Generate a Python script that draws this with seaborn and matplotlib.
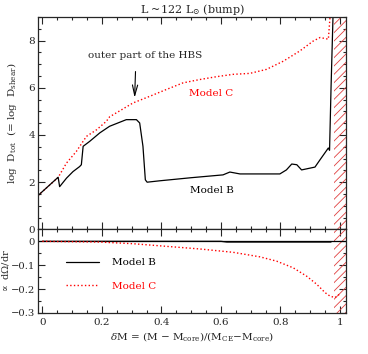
import numpy as np
import pandas as pd
import matplotlib
matplotlib.use('Agg')
import matplotlib.pyplot as plt
import seaborn as sns
from matplotlib.ticker import MultipleLocator

sns.set_style('ticks')
plt.rcParams['font.family'] = ['DejaVu Serif']
plt.rcParams['mathtext.fontset'] = 'dejavuserif'
plt.rcParams['hatch.linewidth'] = 0.6

# Model B, top panel (log D_tot)
xb = [-0.015, 0.053, 0.058, 0.081, 0.103, 0.125, 0.131, 0.137, 0.159, 0.193, 0.226,
      0.26, 0.282, 0.316, 0.327, 0.338, 0.346, 0.352, 0.395, 0.5, 0.607, 0.63, 0.664,
      0.75, 0.798, 0.82, 0.838, 0.855, 0.871, 0.916, 0.933, 0.961, 0.965, 0.97, 0.977]
yb = [1.43, 2.21, 1.81, 2.17, 2.45, 2.66, 2.74, 3.52, 3.73, 4.09, 4.37,
      4.54, 4.65, 4.65, 4.51, 3.52, 2.1, 2.0, 2.06, 2.19, 2.31, 2.43, 2.35,
      2.35, 2.35, 2.52, 2.77, 2.74, 2.52, 2.64, 2.95, 3.45, 3.35, 6.0, 9.2]

# Model C, top panel
xc = [-0.015, 0.053, 0.081, 0.114, 0.148, 0.182, 0.215, 0.226, 0.305, 0.361, 0.417,
      0.473, 0.529, 0.585, 0.641, 0.697, 0.753, 0.81, 0.865, 0.91, 0.933, 0.961, 0.966, 0.97]
yc = [1.43, 2.2, 2.81, 3.3, 3.94, 4.22, 4.58, 4.77, 5.36, 5.64, 5.93,
      6.21, 6.35, 6.47, 6.57, 6.61, 6.78, 7.13, 7.56, 7.98, 8.13, 8.06, 8.9, 9.5]

# bottom panel (dOmega/dr)
xb2 = [0.0, 0.2, 0.4, 0.6, 0.62, 0.8, 0.97]
yb2 = [0.0, 0.0, 0.0, 0.0, -0.003, -0.003, -0.003]
xc2 = [0.0, 0.193, 0.305, 0.417, 0.529, 0.641, 0.731, 0.787, 0.843, 0.888, 0.922,
       0.95, 0.966, 0.983, 1.0]
yc2 = [0.0, -0.003, -0.01, -0.021, -0.032, -0.046, -0.065, -0.083, -0.111, -0.146, -0.18,
       -0.215, -0.229, -0.236, -0.22]

fig = plt.figure(figsize=(3.68, 3.54), dpi=100)
ax1 = fig.add_axes([0.103, 0.352, 0.837, 0.600])
ax2 = fig.add_axes([0.103, 0.116, 0.837, 0.236])

fs = 7.5
sns.lineplot(x=xc, y=yc, ax=ax1, color='red', linestyle=':', lw=1, sort=False)
sns.lineplot(x=xb, y=yb, ax=ax1, color='black', lw=0.9, sort=False)

ax2.axhline(0, color='black', lw=0.9)
sns.lineplot(x=xb2, y=yb2, ax=ax2, color='black', lw=0.9, sort=False, label='Model B')
sns.lineplot(x=xc2, y=yc2, ax=ax2, color='red', linestyle=':', lw=1, sort=False, label='Model C')

for ax in (ax1, ax2):
    ax.axvspan(0.98, 1.02, facecolor='none', edgecolor='#e04040', hatch='////', lw=0)
    ax.set_xlim(-0.015, 1.02)
    ax.xaxis.set_major_locator(MultipleLocator(0.2))
    ax.xaxis.set_minor_locator(MultipleLocator(0.05))
    ax.tick_params(which='both', direction='in', top=True, right=True, labelsize=fs, width=0.8)
    ax.tick_params(which='major', length=5)
    ax.tick_params(which='minor', length=2.5)
    ax.tick_params(axis='y', pad=2)
    for s in ax.spines.values():
        s.set_linewidth(0.9)

ax1.set_ylim(0, 9)
ax1.yaxis.set_major_locator(MultipleLocator(2))
ax1.yaxis.set_minor_locator(MultipleLocator(0.5))
ax1.tick_params(labelbottom=False)
ax1.set_ylabel(r'log  D$_{\rm tot}$  (= log  D$_{\rm shear}$)', fontsize=fs)
ax1.yaxis.set_label_coords(-0.06, 0.5)
ax1.set_title(r'L ~122 L$_{\odot}$ (bump)', fontsize=fs + 0.5, pad=3)

ax1.annotate('outer part of the HBS', xy=(0.31, 5.58), xytext=(0.345, 7.37),
             fontsize=fs, ha='center', va='center',
             arrowprops=dict(arrowstyle='->,head_length=1.0,head_width=0.25',
                             color='black', lw=0.8, shrinkA=6, shrinkB=0,
                             connectionstyle='arc3', relpos=(0.42, 0.0)))
ax1.text(0.567, 5.74, 'Model C', color='red', fontsize=fs, ha='center', va='center')
ax1.text(0.57, 1.64, 'Model B', color='black', fontsize=fs, ha='center', va='center')

ax2.set_ylim(-0.3, 0.05)
ax2.yaxis.set_minor_locator(MultipleLocator(0.05))
ax2.set_yticks([0, -0.1, -0.2, -0.3])
ax2.set_yticklabels(['0', '\u22120.1', '\u22120.2', '\u22120.3'], fontsize=fs - 0.3)
ax2.set_xticks([0, 0.2, 0.4, 0.6, 0.8, 1.0])
ax2.set_xticklabels(['0', '0.2', '0.4', '0.6', '0.8', '1'])
ax2.set_ylabel(r'$\propto$ d$\Omega$/dr', fontsize=fs - 0.5)
ax2.yaxis.set_label_coords(-0.088, 0.5)
ax2.set_xlabel(r'$\delta$M = (M $-$ M$_{\rm core}$)/(M$_{\rm CE}$$-$M$_{\rm core}$)',
               fontsize=fs, labelpad=2)

leg = ax2.legend(loc='center left', bbox_to_anchor=(0.06, 0.46), frameon=False,
                 fontsize=fs, handlelength=3.2, labelspacing=1.4, handletextpad=1.2)
for t, c in zip(leg.get_texts(), ['black', 'red']):
    t.set_color(c)

fig.savefig('out.png', dpi=100)
